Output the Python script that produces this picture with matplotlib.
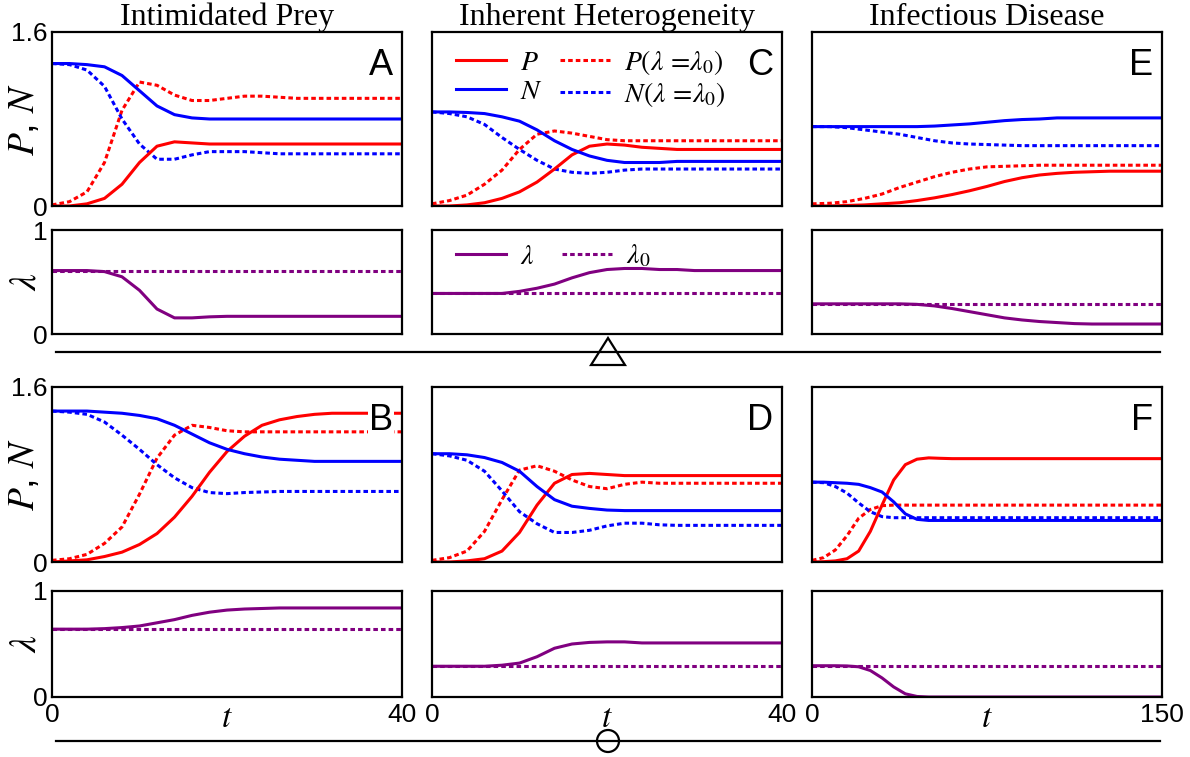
import matplotlib
matplotlib.use("Agg")
import matplotlib.pyplot as plt
from matplotlib.patches import Polygon, Circle

plt.rcParams.update({
    "font.family": "Liberation Sans",
    "mathtext.fontset": "stix",
})
RED, BLUE, PURPLE = "#ff0000", "#0000ff", "#800080"
DOT = (0, (1.5, 1.0))
W, H = 1190, 757

# time grids
t40 = [0, 2, 4, 6, 8, 10, 12, 14, 16, 18, 20, 22, 24, 26, 28, 30, 32, 34, 36, 38, 40]
t150 = [0, 7.5, 15, 22.5, 30, 37.5, 45, 52.5, 60, 67.5, 75, 82.5, 90, 97.5, 105,
        112.5, 120, 127.5, 135, 142.5, 150]
tF = [0, 5, 10, 15, 20, 25, 30, 35, 40, 45, 50, 55, 60, 75, 90, 105, 120, 135, 150]

# A: intimidated prey, triangle case
A_P = [0.0, 0.0, 0.02, 0.07, 0.20, 0.40, 0.55, 0.59, 0.58, 0.57, 0.57, 0.57, 0.57, 0.57, 0.57, 0.57, 0.57, 0.57, 0.57, 0.57, 0.57]
A_N = [1.31, 1.31, 1.30, 1.28, 1.20, 1.06, 0.92, 0.84, 0.81, 0.80, 0.80, 0.80, 0.80, 0.80, 0.80, 0.80, 0.80, 0.80, 0.80, 0.80, 0.80]
A_P0 = [0.01, 0.04, 0.13, 0.40, 0.88, 1.14, 1.11, 1.02, 0.97, 0.97, 0.99, 1.01, 1.01, 1.00, 0.99, 0.99, 0.99, 0.99, 0.99, 0.99, 0.99]
A_N0 = [1.31, 1.30, 1.25, 1.10, 0.80, 0.57, 0.43, 0.43, 0.47, 0.50, 0.50, 0.50, 0.49, 0.48, 0.48, 0.48, 0.48, 0.48, 0.48, 0.48, 0.48]
A_lam = [0.61, 0.61, 0.61, 0.60, 0.55, 0.42, 0.24, 0.155, 0.155, 0.165, 0.17, 0.17, 0.17, 0.17, 0.17, 0.17, 0.17, 0.17, 0.17, 0.17, 0.17]
A_lam0 = 0.61

# C: inherent heterogeneity, triangle case
C_P = [0.0, 0.0, 0.01, 0.03, 0.07, 0.13, 0.22, 0.34, 0.47, 0.55, 0.57, 0.56, 0.54, 0.53, 0.52, 0.52, 0.52, 0.52, 0.52, 0.52, 0.52]
C_N = [0.865, 0.865, 0.86, 0.85, 0.82, 0.78, 0.70, 0.60, 0.52, 0.46, 0.42, 0.40, 0.40, 0.40, 0.41, 0.41, 0.41, 0.41, 0.41, 0.41, 0.41]
C_P0 = [0.02, 0.05, 0.10, 0.20, 0.33, 0.52, 0.66, 0.69, 0.67, 0.64, 0.61, 0.60, 0.60, 0.60, 0.60, 0.60, 0.60, 0.60, 0.60, 0.60, 0.60]
C_N0 = [0.865, 0.85, 0.82, 0.75, 0.63, 0.52, 0.42, 0.34, 0.31, 0.30, 0.31, 0.33, 0.34, 0.34, 0.34, 0.34, 0.34, 0.34, 0.34, 0.34, 0.34]
C_lam = [0.39, 0.39, 0.39, 0.39, 0.39, 0.41, 0.44, 0.48, 0.54, 0.59, 0.62, 0.63, 0.63, 0.62, 0.62, 0.61, 0.61, 0.61, 0.61, 0.61, 0.61]
C_lam0 = 0.39

# E: infectious disease, triangle case
E_P = [0.0, 0.0, 0.005, 0.01, 0.02, 0.03, 0.05, 0.075, 0.105, 0.14, 0.18, 0.225, 0.26, 0.285, 0.30, 0.31, 0.315, 0.32, 0.32, 0.32, 0.32]
E_N = [0.73, 0.73, 0.73, 0.73, 0.73, 0.73, 0.73, 0.735, 0.745, 0.755, 0.77, 0.785, 0.795, 0.80, 0.81, 0.81, 0.81, 0.81, 0.81, 0.81, 0.81]
E_P0 = [0.02, 0.025, 0.04, 0.07, 0.11, 0.17, 0.22, 0.27, 0.31, 0.34, 0.36, 0.365, 0.37, 0.375, 0.375, 0.375, 0.375, 0.375, 0.375, 0.375, 0.375]
E_N0 = [0.73, 0.73, 0.72, 0.70, 0.68, 0.66, 0.63, 0.60, 0.58, 0.57, 0.565, 0.56, 0.555, 0.555, 0.555, 0.555, 0.555, 0.555, 0.555, 0.555, 0.555]
E_lam = [0.29, 0.29, 0.29, 0.29, 0.29, 0.29, 0.285, 0.27, 0.245, 0.215, 0.185, 0.155, 0.135, 0.12, 0.11, 0.10, 0.096, 0.096, 0.096, 0.096, 0.096]
E_lam0 = 0.29

# B: intimidated prey, circle case
B_P = [0.0, 0.01, 0.02, 0.05, 0.09, 0.16, 0.26, 0.41, 0.60, 0.82, 1.01, 1.15, 1.25, 1.30, 1.33, 1.35, 1.36, 1.36, 1.36, 1.36, 1.36]
B_N = [1.38, 1.38, 1.38, 1.37, 1.36, 1.34, 1.31, 1.25, 1.17, 1.09, 1.03, 0.99, 0.96, 0.94, 0.93, 0.92, 0.92, 0.92, 0.92, 0.92, 0.92]
B_P0 = [0.015, 0.03, 0.07, 0.17, 0.32, 0.62, 0.95, 1.16, 1.25, 1.23, 1.20, 1.19, 1.19, 1.19, 1.19, 1.19, 1.19, 1.19, 1.19, 1.19, 1.19]
B_N0 = [1.38, 1.37, 1.35, 1.28, 1.16, 1.03, 0.89, 0.77, 0.68, 0.635, 0.625, 0.635, 0.64, 0.645, 0.645, 0.645, 0.645, 0.645, 0.645, 0.645, 0.645]
B_lam = [0.64, 0.64, 0.64, 0.645, 0.655, 0.67, 0.70, 0.73, 0.77, 0.80, 0.82, 0.83, 0.835, 0.84, 0.84, 0.84, 0.84, 0.84, 0.84, 0.84, 0.84]
B_lam0 = 0.64

# D: inherent heterogeneity, circle case
D_P = [0.0, 0.0, 0.01, 0.03, 0.10, 0.27, 0.52, 0.72, 0.80, 0.81, 0.80, 0.79, 0.79, 0.79, 0.79, 0.79, 0.79, 0.79, 0.79, 0.79, 0.79]
D_N = [0.99, 0.99, 0.98, 0.955, 0.91, 0.83, 0.69, 0.57, 0.51, 0.49, 0.475, 0.47, 0.47, 0.47, 0.47, 0.47, 0.47, 0.47, 0.47, 0.47, 0.47]
D_P0 = [0.015, 0.04, 0.10, 0.28, 0.57, 0.84, 0.88, 0.83, 0.75, 0.69, 0.67, 0.71, 0.73, 0.72, 0.72, 0.72, 0.72, 0.72, 0.72, 0.72, 0.72]
D_N0 = [0.99, 0.97, 0.93, 0.83, 0.65, 0.46, 0.35, 0.27, 0.27, 0.29, 0.33, 0.355, 0.355, 0.34, 0.335, 0.335, 0.335, 0.335, 0.335, 0.335, 0.335]
D_lam = [0.29, 0.29, 0.29, 0.29, 0.30, 0.32, 0.38, 0.46, 0.50, 0.515, 0.52, 0.52, 0.51, 0.51, 0.51, 0.51, 0.51, 0.51, 0.51, 0.51, 0.51]
D_lam0 = 0.29

# F: infectious disease, circle case
F_P = [0.0, 0.003, 0.01, 0.03, 0.10, 0.28, 0.52, 0.75, 0.89, 0.94, 0.952, 0.948, 0.945, 0.945, 0.945, 0.945, 0.945, 0.945, 0.945]
F_N = [0.73, 0.73, 0.725, 0.72, 0.71, 0.68, 0.64, 0.55, 0.44, 0.39, 0.38, 0.38, 0.38, 0.38, 0.38, 0.38, 0.38, 0.38, 0.38]
F_P0 = [0.015, 0.04, 0.11, 0.24, 0.40, 0.48, 0.515, 0.52, 0.52, 0.52, 0.52, 0.52, 0.52, 0.52, 0.52, 0.52, 0.52, 0.52, 0.52]
F_N0 = [0.73, 0.725, 0.69, 0.63, 0.54, 0.46, 0.415, 0.405, 0.405, 0.405, 0.405, 0.405, 0.405, 0.405, 0.405, 0.405, 0.405, 0.405, 0.405]
F_lam = [0.295, 0.295, 0.295, 0.293, 0.285, 0.25, 0.18, 0.095, 0.03, 0.005, 0.0, 0.0, 0.0, 0.0, 0.0, 0.0, 0.0, 0.0, 0.0]
F_lam0 = 0.295

titles = ["Intimidated Prey", "Inherent Heterogeneity", "Infectious Disease"]
xmax = [40, 40, 150]

col_x = [(52, 402), (432, 782), (812, 1162)]
row_y = [(32, 206), (230, 334), (387, 562), (591, 697)]

panels = [
    # (row pair index, col, letter, t, P, N, P0, N0, lam, lam0)
    (0, 0, "A", t40, A_P, A_N, A_P0, A_N0, A_lam, A_lam0),
    (0, 1, "C", t40, C_P, C_N, C_P0, C_N0, C_lam, C_lam0),
    (0, 2, "E", t150, E_P, E_N, E_P0, E_N0, E_lam, E_lam0),
    (1, 0, "B", t40, B_P, B_N, B_P0, B_N0, B_lam, B_lam0),
    (1, 1, "D", t40, D_P, D_N, D_P0, D_N0, D_lam, D_lam0),
    (1, 2, "F", tF, F_P, F_N, F_P0, F_N0, F_lam, F_lam0),
]

fig = plt.figure(figsize=(W / 100, H / 100), dpi=100)


def add_ax(x0, x1, y0, y1):
    return fig.add_axes([x0 / W, 1 - y1 / H, (x1 - x0) / W, (y1 - y0) / H])


def style(ax):
    for s in ax.spines.values():
        s.set_linewidth(1.6)
    ax.tick_params(length=0, labelsize=19, pad=3)
    ax.set_xticks([])
    ax.set_yticks([])


for pair, col, letter, t, P, N, P0, N0, lam, lam0 in panels:
    x0, x1 = col_x[col]
    ya0, ya1 = row_y[2 * pair]
    yb0, yb1 = row_y[2 * pair + 1]
    ax = add_ax(x0, x1, ya0, ya1)
    axl = add_ax(x0, x1, yb0, yb1)
    style(ax); style(axl)

    lP0, = ax.plot(t, P0, color=RED, lw=2.2, ls=DOT, label=r"$P(\lambda\,=\!\lambda_0)$")
    lN0, = ax.plot(t, N0, color=BLUE, lw=2.2, ls=DOT, label=r"$N(\lambda\,=\!\lambda_0)$")
    lP, = ax.plot(t, P, color=RED, lw=2.2, label=r"$P$")
    lN, = ax.plot(t, N, color=BLUE, lw=2.2, label=r"$N$")
    ax.set_xlim(0, xmax[col]); ax.set_ylim(0, 1.6)
    ax.text(0.975, 0.91, letter, transform=ax.transAxes, ha="right", va="top",
            fontsize=26, zorder=5,
            bbox=dict(facecolor="white", edgecolor="none", pad=0.5))

    ll0, = axl.plot([0, xmax[col]], [lam0, lam0], color=PURPLE, lw=2.2, ls=DOT,
                    label=r"$\lambda_0$")
    ll, = axl.plot(t, lam, color=PURPLE, lw=2.2, label=r"$\lambda$")
    axl.set_xlim(0, xmax[col]); axl.set_ylim(0, 1)

    if col == 0:
        ax.set_yticks([0, 1.6]); ax.set_yticklabels(["0", "1.6"])
        axl.set_yticks([0, 1]); axl.set_yticklabels(["0", "1"])
        fig.text(24 / W, 1 - (ya0 + ya1) / 2 / H, r"$P$, $N$", rotation=90,
                 ha="center", va="center", fontsize=27)
        fig.text(26 / W, 1 - (yb0 + yb1) / 2 / H, r"$\lambda$", rotation=90,
                 ha="center", va="center", fontsize=27)
    if pair == 0:
        ax.set_title(titles[col], family="Liberation Serif", fontsize=23, pad=2)
    else:
        axl.set_xticks([0, xmax[col]])
        axl.set_xticklabels(["0", str(xmax[col])])
        axl.tick_params(axis="x", pad=4)
        axl.text(0.5, -0.2, r"$t$", transform=axl.transAxes, ha="center",
                 va="center", fontsize=24)
    if pair == 0 and col == 1:
        ax.legend([lP, lN, lP0, lN0], [lP.get_label(), lN.get_label(),
                  lP0.get_label(), lN0.get_label()], ncol=2, frameon=False,
                  loc="upper left", bbox_to_anchor=(0.014, 1.02), fontsize=20,
                  handlelength=1.8, handletextpad=0.5, columnspacing=0.6,
                  labelspacing=0.1, borderaxespad=0.3)
        axl.legend([ll, ll0], [ll.get_label(), ll0.get_label()], ncol=2,
                   frameon=False, loc="upper left", bbox_to_anchor=(0.014, 1.06),
                   fontsize=20, handlelength=1.8, handletextpad=0.5,
                   columnspacing=1.0, borderaxespad=0.3)

# separators with triangle / circle markers
ov = fig.add_axes([0, 0, 1, 1], zorder=10)
ov.set_xlim(0, W); ov.set_ylim(H, 0); ov.axis("off")
ov.plot([56, 1160], [352, 352], color="black", lw=1.6)
ov.add_patch(Polygon([[591, 365], [625, 365], [608, 338]], closed=True,
                     facecolor="white", edgecolor="black", lw=1.6))
ov.plot([56, 1160], [741, 741], color="black", lw=1.6)
ov.add_patch(Circle((608, 741), 11, facecolor="white", edgecolor="black", lw=1.6))

fig.savefig("out.png", dpi=100)
